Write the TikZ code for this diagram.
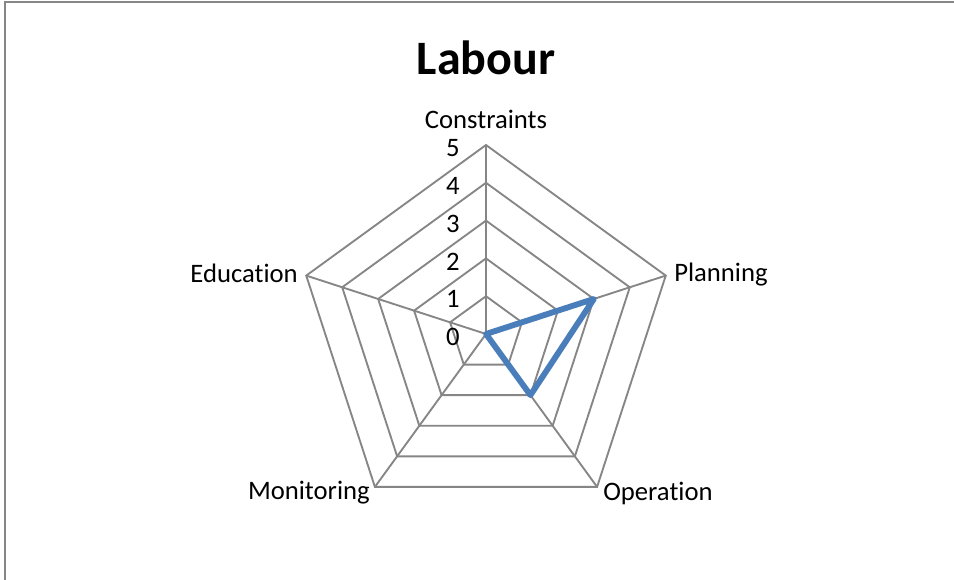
\documentclass[tikz,border=0pt]{standalone}
\usepackage{fontspec}
\setmainfont{Carlito}[Ligatures=NoCommon]
\usetikzlibrary{calc}
\definecolor{gridgray}{HTML}{868686}
\definecolor{seriesblue}{HTML}{4A7EBB}
\newcommand{\nl}{\kern0pt }
\begin{document}
\begin{tikzpicture}[x=0.75pt,y=0.75pt,
  grid/.style={draw=gridgray,line width=1.4pt},
  series/.style={draw=seriesblue,line width=4.4pt,line join=round},
  axlabel/.style={font=\fontsize{20}{24}\selectfont,inner sep=0pt},
  ticklabel/.style={font=\fontsize{20}{24}\selectfont,inner sep=0pt,anchor=east},
  titlestyle/.style={font=\fontsize{36}{42}\selectfont\bfseries,inner sep=0pt}]
\useasboundingbox (0,0) rectangle (954,579);
\fill[white] (0,0) rectangle (954,579);
\draw[gridgray,line width=1.4pt] (5,-20) -- (5,577) -- (980,577);
\coordinate (O) at (486,245);
% axis end points for each ring
\foreach \r in {1,...,5}{
  \coordinate (c\r) at ($(O)+(90:\r*37.8)$);
  \coordinate (p\r) at ($(O)+(18:\r*37.8)$);
  \coordinate (o\r) at ($(O)+(-54:\r*37.8)$);
  \coordinate (m\r) at ($(O)+(-126:\r*37.8)$);
  \coordinate (e\r) at ($(O)+(162:\r*37.8)$);
}
% grid pentagons
\foreach \r in {1,...,5}{
  \draw[grid,line join=miter] (c\r) -- (p\r) -- (o\r) -- (m\r) -- (e\r) -- cycle;
}
% spokes
\foreach \s in {c,p,o,m,e}{
  \draw[grid] (O) -- (\s5);
}
% tick labels
\foreach \k in {0,...,5}{
  \node[ticklabel] (t\k) at (460,{245+37.8*\k-3}) {\k};
}
% axis labels
\node[axlabel] (lc) at (486,460) {Constraint\nl s};
\node[axlabel,anchor=west] (lp) at (674,304) {Planning};
\node[axlabel,anchor=east] (le) at (298,306) {Educat\nl ion};
\node[axlabel,anchor=east] (lm) at (370,86) {Monitoring};
\node[axlabel,anchor=west] (lo) at (603,86) {Operat\nl ion};
% title
\node[titlestyle] (title) at (486,521) {Labour};
% series
\draw[series] (O) -- (p3) -- (o2) -- (O) -- cycle;
\end{tikzpicture}
\end{document}
